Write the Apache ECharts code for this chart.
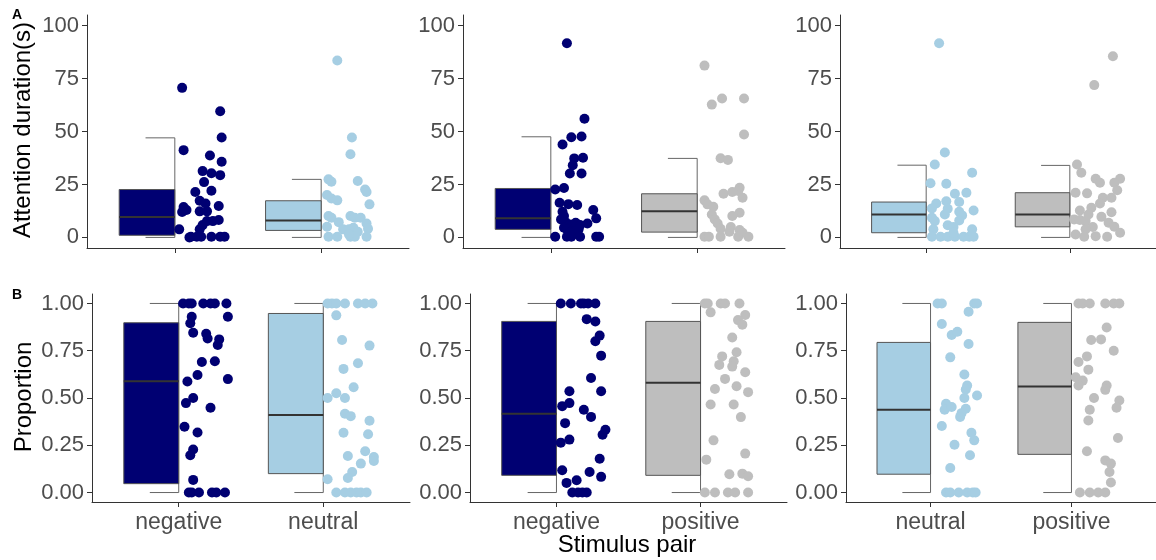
<!DOCTYPE html>
<html>
<head>
<meta charset="utf-8">
<title>Attention duration and proportion by stimulus pair</title>
<script src="https://cdn.jsdelivr.net/npm/echarts@6.0.0/dist/echarts.min.js"></script>
<style>
  html, body { margin: 0; padding: 0; background: #fff; }
  #chart { width: 1156px; height: 560px; }
</style>
</head>
<body>
<div id="chart"></div>
<script>
// categories of each column of panels
const catsP1 = ['negative', 'neutral'];
const catsP2 = ['negative', 'positive'];
const catsP3 = ['neutral', 'positive'];

// tick labels
const ticksA = [0, 25, 50, 75, 100];
const ticksB = [0, 0.25, 0.5, 0.75, 1];

// boxes: [min, q1, median, q3, max]
const boxA1neg = [0, 1, 9.6, 22.6, 47];
const boxA1neu = [0, 3.3, 8.0, 17.3, 27.4];
const boxA2neg = [0, 3.8, 9.0, 23.1, 47.5];
const boxA2pos = [0, 2.5, 12.3, 20.6, 37.3];
const boxA3neu = [0, 2.2, 10.8, 16.7, 34.1];
const boxA3pos = [0, 5.0, 10.8, 21.1, 34.0];
const boxB1neg = [0, 0.047, 0.589, 0.898, 1];
const boxB1neu = [0, 0.10, 0.41, 0.947, 1];
const boxB2neg = [0, 0.091, 0.417, 0.905, 1];
const boxB2pos = [0, 0.091, 0.58, 0.905, 1];
const boxB3neu = [0, 0.097, 0.438, 0.794, 1];
const boxB3pos = [0, 0.202, 0.561, 0.90, 1];

// jittered points: [x jitter from category, value]
const ptsA1neg = [[0.05,70.6],[0.31,59.6],[0.32,47.2],[0.06,41.2],[0.24,38.7],[0.32,35.7],[0.19,31.3],[0.25,30.3],[0.31,29.4],[0.20,26.1],[0.14,21.4],[0.25,22.0],[0.17,17.3],[0.21,16.0],[0.30,14.8],[0.06,14.3],[0.08,12.9],[0.05,12.0],[0.17,12.3],[0.22,12.3],[0.22,7.7],[0.26,7.7],[0.30,8.2],[0.19,5.8],[0.17,3.8],[0.03,3.8],[0.11,0.3],[0.15,0.3],[0.18,0.3],[0.25,0.3],[0.31,0.3],[0.34,0.3],[0.10,0]];
const ptsA1neu = [[0.11,83.5],[0.21,47.2],[0.20,39.3],[0.05,27.4],[0.07,26.3],[0.25,26.6],[0.30,22.6],[0.31,21.4],[0.04,20.0],[0.07,18.4],[0.11,17.5],[0.33,15.6],[0.05,10.1],[0.07,9.3],[0.20,10.1],[0.23,9.3],[0.27,9.3],[0.12,7.2],[0.31,6.6],[0.04,5.0],[0.15,3.8],[0.19,3.8],[0.22,4.6],[0.32,4.1],[0.25,2.7],[0.05,0.3],[0.11,0.3],[0.20,0.3],[0.23,0.3],[0.31,0.3],[0.19,1.4]];
const ptsA2neg = [[0.11,91.7],[0.23,56.0],[0.08,43.9],[0.14,47.3],[0.21,47.6],[0.16,37.3],[0.22,37.6],[0.15,34.1],[0.13,30.2],[0.21,30.2],[0.03,22.6],[0.09,23.3],[0.06,16.4],[0.12,15.7],[0.18,15.3],[0.29,12.9],[0.31,9.0],[0.08,12.1],[0.09,10.1],[0.07,8.5],[0.10,7.2],[0.13,6.1],[0.17,6.9],[0.20,5.8],[0.25,6.6],[0.09,4.6],[0.11,3.8],[0.15,3.0],[0.19,3.8],[0.03,0.3],[0.11,0.3],[0.14,0.3],[0.20,0.3],[0.31,0.3],[0.33,0.3],[0.13,2.2]];
const ptsA2pos = [[0.05,81.1],[0.10,62.7],[0.17,65.6],[0.32,65.6],[0.32,48.6],[0.16,37.4],[0.21,36.6],[0.29,23.4],[0.28,21.9],[0.18,20.6],[0.24,21.4],[0.31,18.7],[0.05,17.5],[0.07,15.6],[0.11,14.5],[0.29,11.6],[0.24,10.1],[0.10,10.8],[0.12,8.5],[0.14,6.6],[0.16,4.1],[0.23,4.9],[0.22,2.7],[0.29,3.5],[0.31,2.2],[0.05,0.3],[0.08,0.3],[0.16,0.3],[0.28,0.3],[0.35,0.3]];
const ptsA3neu = [[0.09,91.7],[0.13,40.1],[0.06,34.4],[0.32,30.5],[0.03,25.6],[0.14,25.3],[0.28,21.1],[0.20,20.6],[0.23,16.7],[0.14,17.1],[0.07,16.0],[0.04,13.7],[0.33,12.7],[0.15,13.5],[0.23,12.1],[0.13,10.8],[0.25,10.4],[0.04,9.3],[0.06,7.7],[0.23,8.0],[0.15,5.7],[0.19,4.9],[0.05,3.8],[0.32,3.8],[0.04,0.3],[0.10,0.3],[0.15,0.3],[0.20,0.3],[0.26,0.3],[0.30,0.3],[0.33,0.3],[0.19,2.2]];
const ptsA3pos = [[0.30,85.5],[0.17,71.9],[0.05,34.4],[0.08,30.5],[0.18,27.7],[0.21,25.8],[0.35,27.7],[0.31,25.8],[0.33,22.3],[0.04,21.1],[0.12,20.8],[0.23,18.7],[0.29,18.7],[0.21,16.0],[0.15,14.0],[0.07,12.7],[0.29,11.9],[0.13,10.8],[0.22,9.7],[0.03,8.5],[0.07,8.2],[0.11,7.7],[0.27,6.9],[0.31,5.0],[0.16,4.9],[0.11,3.8],[0.35,2.2],[0.10,0.3],[0.18,0.6],[0.26,0.3],[0.04,1.4]];
const ptsB1neg = [[0.03,1],[0.07,1],[0.09,1],[0.17,1],[0.22,1],[0.25,1],[0.33,1],[0.09,0.93],[0.34,0.93],[0.08,0.895],[0.10,0.845],[0.19,0.84],[0.20,0.815],[0.28,0.81],[0.27,0.78],[0.16,0.69],[0.25,0.694],[0.34,0.60],[0.06,0.587],[0.13,0.622],[0.10,0.50],[0.05,0.473],[0.22,0.448],[0.04,0.348],[0.13,0.318],[0.10,0.228],[0.08,0.197],[0.10,0.067],[0.07,0],[0.09,0],[0.14,0],[0.23,0],[0.26,0],[0.32,0]];
const ptsB1neu = [[0.03,1],[0.06,1],[0.09,1],[0.15,1],[0.24,1],[0.29,1],[0.34,1],[0.09,0.937],[0.13,0.807],[0.32,0.777],[0.24,0.684],[0.14,0.654],[0.21,0.557],[0.09,0.525],[0.03,0.50],[0.15,0.50],[0.15,0.417],[0.19,0.404],[0.32,0.38],[0.14,0.316],[0.31,0.308],[0.29,0.218],[0.17,0.193],[0.35,0.188],[0.35,0.167],[0.26,0.153],[0.20,0.109],[0.17,0.077],[0.03,0.07],[0.09,0],[0.15,0],[0.19,0],[0.23,0],[0.26,0],[0.30,0]];
const ptsB2neg = [[0.03,1],[0.10,1],[0.17,1],[0.19,1],[0.22,1],[0.27,1],[0.21,0.917],[0.27,0.905],[0.30,0.83],[0.27,0.80],[0.31,0.724],[0.24,0.606],[0.31,0.536],[0.09,0.536],[0.09,0.473],[0.04,0.457],[0.19,0.438],[0.24,0.40],[0.06,0.367],[0.34,0.332],[0.32,0.306],[0.03,0.264],[0.09,0.28],[0.30,0.179],[0.04,0.118],[0.23,0.109],[0.31,0.083],[0.14,0.065],[0.07,0.051],[0.11,0],[0.15,0],[0.18,0],[0.21,0]];
const ptsB2pos = [[0.03,1],[0.05,1],[0.14,1],[0.17,1],[0.27,1],[0.07,0.953],[0.31,0.939],[0.26,0.912],[0.29,0.888],[0.22,0.82],[0.25,0.742],[0.15,0.72],[0.13,0.675],[0.23,0.694],[0.22,0.666],[0.31,0.636],[0.17,0.601],[0.25,0.562],[0.10,0.548],[0.33,0.531],[0.07,0.466],[0.23,0.466],[0.28,0.399],[0.09,0.276],[0.31,0.206],[0.04,0.174],[0.20,0.097],[0.29,0.10],[0.33,0.086],[0.03,0],[0.10,0],[0.19,0],[0.24,0],[0.33,0]];
const ptsB3neu = [[0.05,1],[0.08,1],[0.31,1],[0.33,1],[0.27,0.956],[0.08,0.891],[0.15,0.833],[0.19,0.85],[0.27,0.786],[0.14,0.715],[0.24,0.624],[0.26,0.566],[0.25,0.545],[0.33,0.513],[0.24,0.50],[0.11,0.469],[0.10,0.438],[0.15,0.452],[0.25,0.443],[0.22,0.42],[0.21,0.40],[0.08,0.352],[0.29,0.316],[0.31,0.276],[0.17,0.253],[0.28,0.197],[0.14,0.13],[0.11,0],[0.14,0],[0.20,0],[0.26,0],[0.30,0],[0.32,0]];
const ptsB3pos = [[0.05,1],[0.08,1],[0.13,1],[0.24,1],[0.30,1],[0.34,1],[0.25,0.873],[0.14,0.807],[0.21,0.81],[0.30,0.75],[0.11,0.72],[0.05,0.69],[0.12,0.65],[0.03,0.61],[0.08,0.592],[0.05,0.566],[0.25,0.566],[0.24,0.543],[0.16,0.50],[0.34,0.487],[0.32,0.448],[0.13,0.438],[0.12,0.381],[0.33,0.288],[0.11,0.218],[0.24,0.17],[0.28,0.153],[0.27,0.109],[0.28,0.053],[0.06,0],[0.13,0],[0.19,0],[0.24,0]];

const colNeg = '#000072';
const colNeu = '#A6CEE3';
const colPos = '#BEBEBE';
const font = 'Liberation Sans, Arial, sans-serif';

// panel table built from the arrays above
const panels = [
  { cats: catsP1, cols: [colNeg, colNeu], boxes: [boxA1neg, boxA1neu], pts: [ptsA1neg, ptsA1neu], row: 'A', grid: { left: 87, top: 15, width: 322, height: 233 } },
  { cats: catsP2, cols: [colNeg, colPos], boxes: [boxA2neg, boxA2pos], pts: [ptsA2neg, ptsA2pos], row: 'A', grid: { left: 463, top: 15, width: 322, height: 233 } },
  { cats: catsP3, cols: [colNeu, colPos], boxes: [boxA3neu, boxA3pos], pts: [ptsA3neu, ptsA3pos], row: 'A', grid: { left: 840, top: 15, width: 322, height: 233 } },
  { cats: catsP1, cols: [colNeg, colNeu], boxes: [boxB1neg, boxB1neu], pts: [ptsB1neg, ptsB1neu], row: 'B', grid: { left: 92, top: 294, width: 318, height: 208 } },
  { cats: catsP2, cols: [colNeg, colPos], boxes: [boxB2neg, boxB2pos], pts: [ptsB2neg, ptsB2pos], row: 'B', grid: { left: 470, top: 294, width: 317, height: 208 } },
  { cats: catsP3, cols: [colNeu, colPos], boxes: [boxB3neu, boxB3pos], pts: [ptsB3neu, ptsB3pos], row: 'B', grid: { left: 846, top: 294, width: 317, height: 208 } }
];

// half box: box left of the category, bracket whisker ending at the category
function halfBox(color) {
  return function (params, api) {
    const c = api.value(0);
    const lo = api.value(1), q1 = api.value(2), md = api.value(3), q3 = api.value(4), hi = api.value(5);
    const tl = api.coord([c - 0.38, q3]);
    const br = api.coord([c, q1]);
    const m0 = api.coord([c - 0.38, md]);
    const m1 = api.coord([c, md]);
    const w = [[c - 0.2, hi], [c, hi], [c, lo], [c - 0.2, lo]].map(function (p) { return api.coord(p); });
    return {
      type: 'group',
      children: [
        { type: 'polyline', shape: { points: w }, style: { stroke: '#666', lineWidth: 1, fill: 'none' } },
        { type: 'rect', shape: { x: tl[0], y: tl[1], width: br[0] - tl[0], height: br[1] - tl[1] }, style: { fill: color, stroke: '#555', lineWidth: 1 } },
        { type: 'line', shape: { x1: m0[0], y1: m0[1], x2: m1[0], y2: m1[1] }, style: { stroke: '#333', lineWidth: 2 } }
      ]
    };
  };
}

const grids = [], xAxes = [], yAxes = [], series = [];
panels.forEach(function (p, i) {
  const isA = p.row === 'A';
  grids.push(p.grid);
  xAxes.push({
    type: 'value', gridIndex: i, min: 0.4, max: 2.6,
    axisLine: { onZero: false, lineStyle: { color: '#333', width: 1 } },
    axisTick: { customValues: [1, 2], length: 5, lineStyle: { color: '#333' } },
    axisLabel: {
      show: !isA, customValues: [1, 2], margin: 9,
      fontSize: 23, fontFamily: font, color: '#4D4D4D',
      formatter: function (v) { return p.cats[Math.round(v) - 1]; }
    },
    splitLine: { show: false }
  });
  yAxes.push({
    type: 'value', gridIndex: i,
    min: isA ? -5 : -0.05, max: isA ? 105 : 1.05,
    axisLine: { show: true, onZero: false, lineStyle: { color: '#333', width: 1 } },
    axisTick: { show: true, customValues: isA ? ticksA : ticksB, length: 5, lineStyle: { color: '#333' } },
    axisLabel: {
      customValues: isA ? ticksA : ticksB, margin: 8,
      fontSize: 22, fontFamily: font, color: '#4D4D4D',
      formatter: function (v) { return isA ? String(v) : v.toFixed(2); }
    },
    splitLine: { show: false }
  });
  [0, 1].forEach(function (k) {
    series.push({
      type: 'custom', xAxisIndex: i, yAxisIndex: i,
      renderItem: halfBox(p.cols[k]),
      encode: { x: 0, y: [1, 2, 3, 4, 5] },
      data: [[k + 1].concat(p.boxes[k])],
      silent: true, z: 2
    });
    series.push({
      type: 'scatter', xAxisIndex: i, yAxisIndex: i,
      symbol: 'circle', symbolSize: 10,
      itemStyle: { color: p.cols[k], opacity: 1 },
      data: p.pts[k].map(function (d) { return [k + 1 + d[0], d[1]]; }),
      silent: true, z: 3
    });
  });
});

const chart = echarts.init(document.getElementById('chart'), null, { renderer: 'canvas' });
chart.setOption({
  animation: false,
  backgroundColor: '#fff',
  grid: grids,
  xAxis: xAxes,
  yAxis: yAxes,
  series: series,
  graphic: [
    { type: 'text', x: 23, y: 130, rotation: Math.PI / 2, style: { text: 'Attention duration(s)', fontSize: 24, fontFamily: font, fill: '#000', align: 'center', verticalAlign: 'middle' } },
    { type: 'text', x: 24, y: 397, rotation: Math.PI / 2, style: { text: 'Proportion', fontSize: 24, fontFamily: font, fill: '#000', align: 'center', verticalAlign: 'middle' } },
    { type: 'text', x: 627, y: 545, style: { text: 'Stimulus pair', fontSize: 24, fontFamily: font, fill: '#000', align: 'center', verticalAlign: 'middle' } },
    { type: 'text', x: 12, y: 8, style: { text: 'A', fontSize: 14, fontWeight: 'bold', fontFamily: font, fill: '#000' } },
    { type: 'text', x: 12, y: 288, style: { text: 'B', fontSize: 14, fontWeight: 'bold', fontFamily: font, fill: '#000' } }
  ]
});
</script>
</body>
</html>
